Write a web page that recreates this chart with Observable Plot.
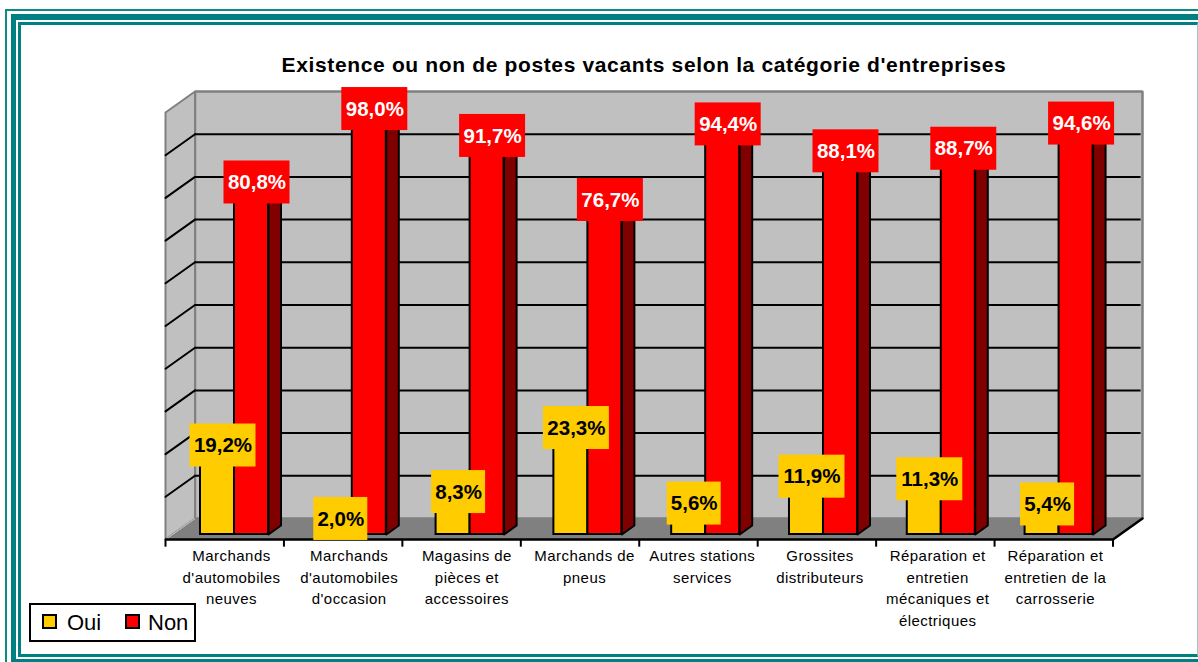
<!DOCTYPE html>
<html lang="fr">
<head>
<meta charset="utf-8">
<script src="https://cdn.jsdelivr.net/npm/d3@7"></script>
<script src="https://cdn.jsdelivr.net/npm/@observablehq/plot@0.6"></script>
<style>
  html, body { margin: 0; padding: 0; background: #fff; overflow: hidden; }
  #page { position: relative; width: 1198px; height: 662px; overflow: hidden; font-family: "Liberation Sans", Arial, sans-serif; }
  .band { position: absolute; box-sizing: border-box; }
  #outer { left: 5px; top: 9px; width: 1300px; height: 800px; border: 2px solid #0e8a84; }
  #thick { left: 11px; top: 14px; width: 1300px; height: 648px; border: 5px solid #008080; border-bottom-width: 3px; border-top-width: 6px; }
  #inner { left: 18px; top: 22px; width: 1180px; height: 635px; border: 3px solid #008080; border-right: 1px solid #9cc9c7; }
  #title { position: absolute; left: 232px; top: 53px; width: 824px; text-align: center; white-space: nowrap; font-size: 21px; font-weight: bold; letter-spacing: 0.64px; color: #000; }
  #chart { position: absolute; left: 0; top: 0; }
  #chart svg { background: transparent; }
  #chart g[aria-label="x-axis tick label"] text { letter-spacing: 0.45px; }
  #legend { position: absolute; left: 29px; top: 603px; width: 167px; height: 39px; box-sizing: border-box; border: 2.5px solid #000; background: #fff; font-size: 22px; }
  #legend i { position: absolute; top: 9px; width: 15px; height: 15px; box-sizing: border-box; border: 2px solid #000; }
  #legend span { position: absolute; top: 6px; line-height: 24px; color: #000; }
</style>
</head>
<body>
<div id="page">
  <div class="band" id="outer"></div>
  <div class="band" id="thick"></div>
  <div class="band" id="inner"></div>
  <div id="chart"></div>
  <div id="title"></div>
  <div id="legend"></div>
</div>
<script>
// ---- data ----
const chartTitle = "Existence ou non de postes vacants selon la catégorie d'entreprises";
const categories = [
  "Marchands\nd'automobiles\nneuves",
  "Marchands\nd'automobiles\nd'occasion",
  "Magasins de\npièces et\naccessoires",
  "Marchands de\npneus",
  "Autres stations\nservices",
  "Grossites\ndistributeurs",
  "Réparation et\nentretien\nmécaniques et\nélectriques",
  "Réparation et\nentretien de la\ncarrosserie"
];
const oui = [19.2, 2.0, 8.3, 23.3, 5.6, 11.9, 11.3, 5.4];
const non = [80.8, 98.0, 91.7, 76.7, 94.4, 88.1, 88.7, 94.6];
const gridValues = [10, 20, 30, 40, 50, 60, 70, 80, 90];

// ---- colours ----
const YELLOW = "#ffcc00", RED = "#ff0000", DARKRED = "#800000", WALL = "#c0c0c0", FLOOR = "#808080";

// ---- 3D layout, in units of the x (category) and y (percent) scales ----
const slotPx = 118.44, pctPx = 4.27;
const wallDx = 29.5 / slotPx, wallDy = 21 / pctPx;    // depth of the box
const barStart = 35 / slotPx, barW = 34 / slotPx;     // bar position inside a category slot
const barStep = 117.8 / slotPx;                       // distance between groups of bars
const sideDx = 12.5 / slotPx, sideDy = 9 / pctPx;     // depth of a bar
const baseY = 5 / pctPx;                              // bar foot sits behind the front edge
const labelH = 43 / pctPx, labelLift = 7 / pctPx, labelShift = 5.5 / slotPx;
const labelPx = s => (s.length >= 5 ? 66 : 54);
const tickStart = 66 / slotPx, tickStep = 117.7 / slotPx;  // centre of the category labels
const categoryTicks = categories.map((c, i) => tickStart + i * tickStep);

const fmt = v => v.toFixed(1).replace(".", ",") + "%";

const bars = [];
categories.forEach((c, i) => {
  const x0 = i * barStep + barStart;
  bars.push({serie: "Oui", i, v: oui[i], x1: x0, x2: x0 + barW, color: YELLOW, ink: "#000"});
  bars.push({serie: "Non", i, v: non[i], x1: x0 + barW, x2: x0 + 2 * barW, color: RED, ink: "#fff"});
});
bars.forEach(b => {
  b.top = baseY + b.v;
  b.text = fmt(b.v);
  b.cx = (b.x1 + b.x2) / 2 + labelShift;
  b.cy = b.top + labelLift;
  b.hw = labelPx(b.text) / 2 / slotPx;
});

const poly = (id, pts) => [...pts, pts[0]].map(([x, y]) => ({id, x, y}));
const line = (rows, fill, stroke, strokeWidth) =>
  Plot.line(rows, {x: "x", y: "y", z: "id", fill, stroke, strokeWidth, strokeLinejoin: "miter"});

const backWall = poly("back", [[wallDx, wallDy], [8 + wallDx, wallDy], [8 + wallDx, 100 + wallDy], [wallDx, 100 + wallDy]]);
const leftWall = poly("left", [[0, 0], [wallDx, wallDy], [wallDx, 100 + wallDy], [0, 100]]);
const floor = poly("floor", [[0, 0], [8, 0], [8 + wallDx, wallDy], [wallDx, wallDy]]);
const leftGrid = gridValues.flatMap(v => [{id: v, x: 0, y: v}, {id: v, x: wallDx, y: v + wallDy}]);
const redSides = bars.filter(b => b.serie === "Non").flatMap(b => poly(b.i, [
  [b.x2, baseY], [b.x2 + sideDx, baseY + sideDy], [b.x2 + sideDx, b.top + sideDy], [b.x2, b.top]
]));

const chart = Plot.plot({
  width: 1198, height: 662,
  marginLeft: 165, marginRight: 85.5, marginTop: 112, marginBottom: 123,
  style: {fontFamily: '"Liberation Sans", Arial, sans-serif', background: "transparent", overflow: "visible"},
  x: {type: "linear", domain: [0, 8], axis: null},
  y: {domain: [0, 100], axis: null},
  marks: [
    line(backWall, WALL, FLOOR, 2.5),
    line(leftWall, WALL, FLOOR, 2),
    line(floor, FLOOR, FLOOR, 1),
    Plot.ruleY(gridValues, {y: v => v + wallDy, x1: wallDx, x2: 8 + wallDx - 0.012, stroke: "#000", strokeWidth: 2}),
    Plot.line(leftGrid, {x: "x", y: "y", z: "id", stroke: "#000", strokeWidth: 2}),
    Plot.line(poly("seam", [[0, 0], [wallDx, wallDy]]), {x: "x", y: "y", z: "id", stroke: "#bdbdbd", strokeWidth: 1}),
    // bars
    line(redSides, DARKRED, "#000", 2),
    Plot.rect(bars, {x1: "x1", x2: "x2", y1: baseY, y2: "top", fill: "color", stroke: "#000", strokeWidth: 2}),
    // front edge of the floor and category ticks
    Plot.ruleY([0], {x1: 0, x2: 8, stroke: "#000", strokeWidth: 2.5}),
    Plot.line(poly("edge", [[8, 0], [8 + wallDx, wallDy]]), {x: "x", y: "y", z: "id", stroke: "#000", strokeWidth: 2.5}),
    Plot.ruleX(d3.range(0, 9), {y1: 0, y2: -1.8, stroke: "#000", strokeWidth: 2}),
    Plot.axisX({
      anchor: "bottom",
      ticks: categoryTicks,
      tickFormat: t => categories[categoryTicks.indexOf(t)],
      tickSize: 0, tickPadding: 6,
      fontSize: 15, lineHeight: 1.45, lineAnchor: "top", textAnchor: "middle",
      fill: "#000", label: null
    }),
    // value labels
    Plot.rect(bars, {
      x1: b => b.cx - b.hw, x2: b => b.cx + b.hw,
      y1: b => b.cy - labelH / 2, y2: b => b.cy + labelH / 2,
      fill: "color"
    }),
    Plot.text(bars, {x: "cx", y: "cy", text: "text", fill: "ink", fontSize: 20.5, fontWeight: "bold"})
  ]
});
document.getElementById("chart").appendChild(chart);
document.getElementById("title").textContent = chartTitle;

const legend = document.getElementById("legend");
[["Oui", YELLOW, 11, 36], ["Non", RED, 94, 117]].forEach(([name, color, sw, tx]) => {
  const i = document.createElement("i");
  i.style.left = sw + "px"; i.style.background = color;
  const s = document.createElement("span");
  s.style.left = tx + "px"; s.textContent = name;
  legend.append(i, s);
});
</script>
</body>
</html>
